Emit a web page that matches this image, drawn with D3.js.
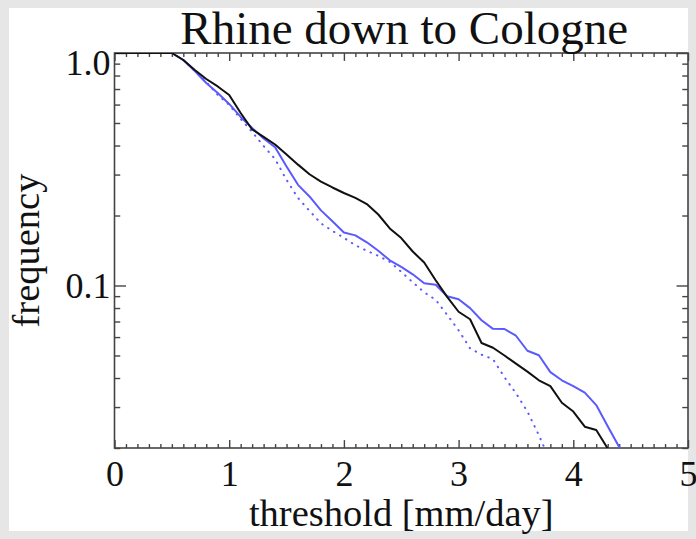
<!DOCTYPE html>
<html>
<head>
<meta charset="utf-8">
<script src="https://cdn.jsdelivr.net/npm/d3@7/dist/d3.min.js"></script>
<style>
  html, body { margin: 0; padding: 0; background: #e6e6e6; }
  svg { display: block; }
  text { font-family: "Liberation Serif", "DejaVu Serif", serif; fill: #111; }
</style>
</head>
<body>
<script>
// Exceedance frequency of daily precipitation thresholds, Rhine basin down to Cologne
const thresholds = [0, 0.5, 0.6, 0.7, 0.8, 0.9, 1.0, 1.1, 1.2, 1.3, 1.4, 1.5, 1.6, 1.7, 1.8, 1.9,
  2.0, 2.1, 2.2, 2.3, 2.4, 2.5, 2.6, 2.7, 2.8, 2.9, 3.0, 3.1, 3.2, 3.3, 3.4, 3.5, 3.6, 3.7, 3.8,
  3.9, 4.0, 4.1, 4.2, 4.3, 4.4, 4.5];

// black solid
const seriesBlack = [1.0, 1.0, 0.933, 0.845, 0.773, 0.718, 0.660, 0.552, 0.469, 0.436, 0.404, 0.366,
  0.331, 0.301, 0.280, 0.264, 0.250, 0.238, 0.224, 0.202, 0.176, 0.160, 0.140, 0.1256, 0.1053,
  0.0894, 0.0771, 0.0716, 0.0566, 0.054, 0.050, 0.0461, 0.0426, 0.0391, 0.0369, 0.0313, 0.0287,
  0.0247, 0.0239, 0.0199, 0.016, null];

// blue solid
const seriesBlue = [1.0, 1.0, 0.933, 0.837, 0.743, 0.673, 0.604, 0.531, 0.476, 0.429, 0.393, 0.325,
  0.271, 0.2416, 0.2104, 0.1888, 0.169, 0.1643, 0.1534, 0.141, 0.1283, 0.1203, 0.1117, 0.1022,
  0.1007, 0.0899, 0.0873, 0.0799, 0.0709, 0.0651, 0.065, 0.0608, 0.0524, 0.0501, 0.0424, 0.0391,
  0.0369, 0.0346, 0.0306, 0.0248, 0.0202, 0.016];

// blue dotted
const seriesBlueDotted = [1.0, 1.0, 0.933, 0.837, 0.751, 0.660, 0.598, 0.520, 0.4575, 0.398, 0.350,
  0.2845, 0.238, 0.2094, 0.185, 0.1718, 0.1603, 0.1489, 0.141, 0.1341, 0.1264, 0.1145, 0.1032,
  0.0935, 0.0868, 0.0748, 0.0642, 0.0537, 0.0504, 0.0482, 0.0403, 0.0344, 0.0287, 0.0227, 0.0175,
  null, null, null, null, null, null, null];

const xMajorTicks = [0, 1, 2, 3, 4, 5];
const yMajorTicks = [0.1, 1.0];
const yMinorTicks = [0.02, 0.03, 0.04, 0.05, 0.06, 0.07, 0.08, 0.09, 0.2, 0.3, 0.4, 0.5, 0.6, 0.7, 0.8, 0.9];
const xMinorTicks = d3.range(0, 51).map(i => i / 10).filter(v => Math.abs(v - Math.round(v)) > 1e-9);

const titleText = "Rhine down to Cologne";
const xLabel = "threshold [mm/day]";
const yLabel = "frequency";

const W = 696, H = 539;
const plot = { left: 114.5, right: 688, top: 53, bottom: 448 };
const axisColor = "#444";
const blue = "#5a5aff";
const tickFont = 36, labelFont = 38.5, titleFont = 47;

const svg = d3.select("body").append("svg").attr("width", W).attr("height", H);

// white panel on the light grey page
svg.append("rect").attr("x", 9).attr("y", 8).attr("width", 679).attr("height", 523).attr("fill", "#fff");

const x = d3.scaleLinear().domain([0, 5]).range([plot.left, plot.right]);
const y = d3.scaleLog().domain([0.02, 1]).range([plot.bottom, plot.top]);

const pw = plot.right - plot.left, ph = plot.bottom - plot.top;
const xMajLen = 0.02 * ph, xMinLen = 0.01 * ph;
const yMajLen = 0.02 * pw, yMinLen = 0.01 * pw;

function styleAxis(g) {
  g.select(".domain").remove();
  g.selectAll("line").attr("stroke", axisColor).attr("stroke-width", 1.4);
}

// ticks point inward on all four sides
svg.append("g").attr("transform", `translate(0,${plot.bottom})`)
  .call(d3.axisBottom(x).tickValues(xMinorTicks).tickSize(-xMinLen).tickFormat(""))
  .call(styleAxis);
svg.append("g").attr("transform", `translate(0,${plot.top})`)
  .call(d3.axisTop(x).tickValues(xMinorTicks).tickSize(-xMinLen).tickFormat(""))
  .call(styleAxis);
svg.append("g").attr("transform", `translate(0,${plot.top})`)
  .call(d3.axisTop(x).tickValues(xMajorTicks).tickSize(-xMajLen).tickFormat(""))
  .call(styleAxis);
const xAxis = svg.append("g").attr("transform", `translate(0,${plot.bottom})`)
  .call(d3.axisBottom(x).tickValues(xMajorTicks).tickSize(-xMajLen).tickPadding(12).tickFormat(d3.format("d")))
  .call(styleAxis);
xAxis.selectAll("text").attr("font-size", tickFont).attr("font-family", '"Liberation Serif", serif').attr("fill", "#111");

svg.append("g").attr("transform", `translate(${plot.left},0)`)
  .call(d3.axisLeft(y).tickValues(yMinorTicks).tickSize(-yMinLen).tickFormat(""))
  .call(styleAxis);
svg.append("g").attr("transform", `translate(${plot.right},0)`)
  .call(d3.axisRight(y).tickValues(yMinorTicks).tickSize(-yMinLen).tickFormat(""))
  .call(styleAxis);
svg.append("g").attr("transform", `translate(${plot.right},0)`)
  .call(d3.axisRight(y).tickValues(yMajorTicks).tickSize(-yMajLen).tickFormat(""))
  .call(styleAxis);
const yAxis = svg.append("g").attr("transform", `translate(${plot.left},0)`)
  .call(d3.axisLeft(y).tickValues(yMajorTicks).tickSize(-yMajLen).tickPadding(4).tickFormat(d3.format(".1f")))
  .call(styleAxis);
yAxis.selectAll("text").attr("font-size", tickFont).attr("font-family", '"Liberation Serif", serif').attr("fill", "#111")
  .attr("dy", d => d === 1 ? "0.6em" : "0.32em");

// frame
svg.append("rect").attr("x", plot.left).attr("y", plot.top).attr("width", pw).attr("height", ph)
  .attr("fill", "none").attr("stroke", axisColor).attr("stroke-width", 1.6);

// curves
svg.append("clipPath").attr("id", "plotClip").append("rect")
  .attr("x", plot.left).attr("y", plot.top).attr("width", pw).attr("height", ph);

const line = d3.line()
  .defined(d => d[1] != null)
  .x(d => x(d[0]))
  .y(d => y(d[1]));

const curves = svg.append("g").attr("clip-path", "url(#plotClip)");
function addCurve(values, color, dash) {
  const p = curves.append("path")
    .datum(thresholds.map((t, i) => [t, values[i]]))
    .attr("d", line)
    .attr("fill", "none")
    .attr("stroke", color)
    .attr("stroke-width", 2)
    .attr("stroke-linejoin", "round");
  if (dash) p.attr("stroke-dasharray", dash).attr("stroke-linecap", "round");
}
addCurve(seriesBlueDotted, blue, "0.5,6.5");
addCurve(seriesBlue, blue, null);
addCurve(seriesBlack, "#111", null);

// titles
svg.append("text").attr("x", (plot.left + plot.right) / 2 + 3).attr("y", 44)
  .attr("text-anchor", "middle").attr("font-size", titleFont).text(titleText);
svg.append("text").attr("x", (plot.left + plot.right) / 2).attr("y", 526)
  .attr("text-anchor", "middle").attr("font-size", labelFont).text(xLabel);
svg.append("text").attr("transform", `translate(39,${(plot.top + plot.bottom) / 2}) rotate(-90)`)
  .attr("text-anchor", "middle").attr("font-size", labelFont).text(yLabel);
</script>
</body>
</html>
